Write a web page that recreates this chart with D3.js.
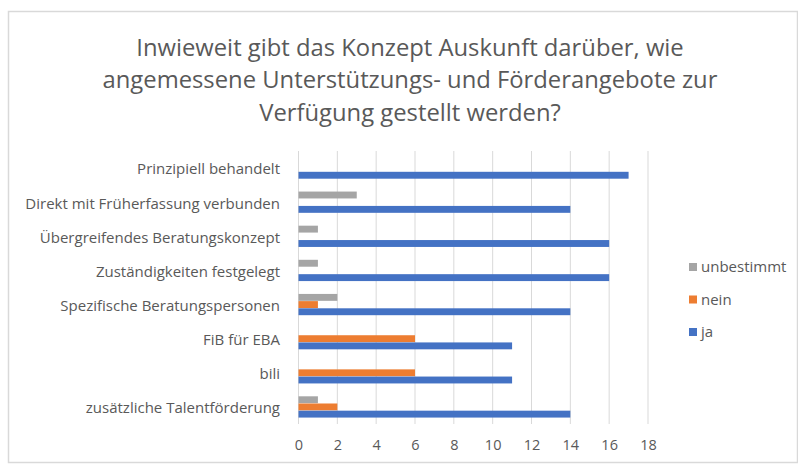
<!DOCTYPE html>
<html>
<head>
<meta charset="utf-8">
<script src="https://cdn.jsdelivr.net/npm/d3@7"></script>
<style>
  html, body { margin: 0; padding: 0; background: #fff; }
  svg { display: block; }
  text { font-family: "Open Sans", sans-serif; fill: #595959; }
</style>
</head>
<body>
<svg id="chart" width="798" height="464"></svg>
<script>
const titleLines = [
  "Inwieweit gibt das Konzept Auskunft darüber, wie",
  "angemessene Unterstützungs- und Förderangebote zur",
  "Verfügung gestellt werden?"
];
const categories = [
  "Prinzipiell behandelt",
  "Direkt mit Früherfassung verbunden",
  "Übergreifendes Beratungskonzept",
  "Zuständigkeiten festgelegt",
  "Spezifische Beratungspersonen",
  "FiB für EBA",
  "bili",
  "zusätzliche Talentförderung"
];
const seriesNames = ["unbestimmt", "nein", "ja"];
const unbestimmt = [0, 3, 1, 1, 2, 0, 0, 1];
const nein       = [0, 0, 0, 0, 1, 6, 6, 2];
const ja         = [17, 14, 16, 16, 14, 11, 11, 14];
const xTicks = [0, 2, 4, 6, 8, 10, 12, 14, 16, 18];
const colors = { unbestimmt: "#A5A5A5", nein: "#ED7D31", ja: "#4472C4" };

const seriesValues = { unbestimmt, nein, ja };
const svg = d3.select("#chart");

// chart border
svg.append("rect")
  .attr("x", 8.5).attr("y", 11.5)
  .attr("width", 789).attr("height", 451)
  .attr("fill", "#fff")
  .attr("stroke", "#d9d9d9").attr("stroke-width", 1.5);

// title
svg.append("g").selectAll("text")
  .data(titleLines).join("text")
  .attr("x", 410)
  .attr("y", (d, i) => 55.5 + i * 32.5)
  .attr("text-anchor", "middle")
  .style("font-size", "23.8px")
  .text(d => d);

const x = d3.scaleLinear().domain([0, 18]).range([298.5, 648]);
const y = d3.scaleBand().domain(categories).range([151, 424])
  .paddingInner(0.36).paddingOuter(0.18);
const yInner = d3.scaleBand().domain(seriesNames).range([0, y.bandwidth()]).padding(0.04);

// gridlines
svg.append("g").selectAll("line")
  .data(xTicks).join("line")
  .attr("x1", d => x(d)).attr("x2", d => x(d))
  .attr("y1", 151).attr("y2", 424)
  .attr("stroke", "#d9d9d9").attr("stroke-width", 1);

// x tick labels
const xAxis = d3.axisBottom(x).tickValues(xTicks).tickSize(0).tickPadding(0);
const gx = svg.append("g").attr("transform", "translate(0,440)").call(xAxis);
gx.select(".domain").remove();
gx.selectAll("text")
  .attr("dy", "0.71em")
  .style("font-family", "'Open Sans', sans-serif")
  .style("font-size", "14.5px").style("fill", "#595959");

// y category labels
const yAxis = d3.axisLeft(y).tickSize(0).tickPadding(0);
const gy = svg.append("g").attr("transform", "translate(280,1.5)").call(yAxis);
gy.select(".domain").remove();
gy.selectAll("text")
  .style("font-family", "'Open Sans', sans-serif")
  .style("font-size", "15px").style("fill", "#595959");

// bars
const groups = svg.append("g").selectAll("g")
  .data(categories).join("g")
  .attr("transform", d => `translate(0,${y(d)})`);
groups.selectAll("rect")
  .data((c, i) => seriesNames.map(s => ({ s, v: seriesValues[s][i] })))
  .join("rect")
  .attr("x", x(0))
  .attr("y", d => yInner(d.s))
  .attr("height", yInner.bandwidth())
  .attr("width", d => x(d.v) - x(0))
  .attr("fill", d => colors[d.s]);

// legend
const legend = svg.append("g").selectAll("g")
  .data(seriesNames).join("g")
  .attr("transform", (d, i) => `translate(689,${267 + i * 32.5})`);
legend.append("rect")
  .attr("x", 0).attr("y", -4).attr("width", 8).attr("height", 8)
  .attr("fill", d => colors[d]);
legend.append("text")
  .attr("x", 12).attr("y", 0).attr("dy", "0.35em")
  .style("font-size", "15px")
  .text(d => d);
</script>
</body>
</html>
